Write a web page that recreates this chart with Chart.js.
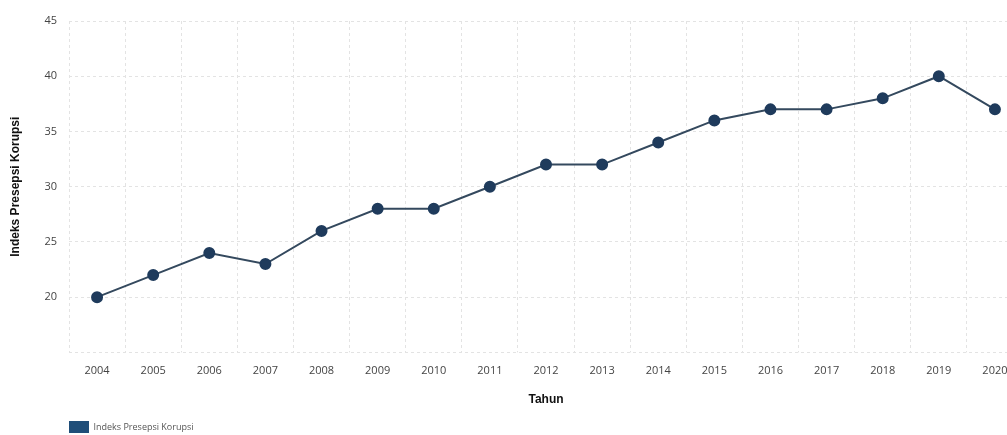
<!DOCTYPE html>
<html>
<head>
<meta charset="utf-8">
<script src="https://cdn.jsdelivr.net/npm/chart.js@4/dist/chart.umd.min.js"></script>
<style>
  html, body { margin: 0; padding: 0; background: #fff; overflow: hidden; }
  .chart { width: 1030px; height: 435px; }
</style>
</head>
<body>
<div class="chart">
  <canvas id="ipkChart" width="1030" height="435"></canvas>
</div>
<script>
const years = ["2004", "2005", "2006", "2007", "2008", "2009", "2010", "2011", "2012",
  "2013", "2014", "2015", "2016", "2017", "2018", "2019", "2020"];
const ipkValues = [20, 22, 24, 23, 26, 28, 28, 30, 32, 32, 34, 36, 37, 37, 38, 40, 37];
const yTicksShown = [20, 25, 30, 35, 40, 45];

// line the legend up with the plot's left edge and the very bottom
const legendShift = {
  id: "legendShift",
  afterLayout: (chart) => {
    chart.legend.left = 66;
    chart.legend.top += 8;
  },
};

const ctx = document.getElementById("ipkChart").getContext("2d");
new Chart(ctx, {
  type: "line",
  data: {
    labels: years,
    datasets: [
      {
        label: "Indeks Presepsi Korupsi",
        data: ipkValues,
        borderColor: "#34495e",
        backgroundColor: "#1f4e79",
        borderWidth: 2,
        pointBackgroundColor: "#1f3b5c",
        pointBorderColor: "#1f3b5c",
        pointRadius: 5,
        tension: 0,
      },
    ],
  },
  plugins: [legendShift],
  options: {
    responsive: false,
    animation: false,
    layout: { padding: { top: 21, left: 8, right: 0, bottom: 0 } },
    plugins: {
      legend: {
        position: "bottom",
        align: "start",
        labels: {
          boxWidth: 20,
          boxHeight: 12,
          color: "#555",
          font: { family: "Open Sans", size: 9 },
          padding: 3,
          generateLabels: (chart) => [
            {
              text: chart.data.datasets[0].label,
              fillStyle: "#1f4e79",
              strokeStyle: "#1f4e79",
              lineWidth: 0,
              fontColor: "#555",
            },
          ],
        },
      },
      tooltip: { enabled: false },
    },
    scales: {
      x: {
        offset: true,
        grid: {
          offset: true,
          color: "#e3e3e3",
          tickLength: 0,
        },
        border: { display: false, dash: [3, 3] },
        ticks: {
          color: "#444",
          font: { family: "Open Sans", size: 11 },
          padding: 12,
          maxRotation: 0,
          autoSkip: false,
        },
        title: {
          display: true,
          text: "Tahun",
          color: "#111",
          font: { family: "Liberation Sans Narrow, Arial Narrow, sans-serif", size: 12, weight: "bold" },
          padding: { top: 3, bottom: 3 },
        },
      },
      y: {
        min: 15,
        max: 45,
        afterFit: (scale) => {
          scale.width = 61;
        },
        grid: {
          color: "#e3e3e3",
          tickLength: 0,
        },
        border: { display: false, dash: [3, 3] },
        ticks: {
          stepSize: 5,
          color: "#444",
          font: { family: "Open Sans", size: 11 },
          padding: 12,
          callback: (value) => (yTicksShown.includes(value) ? value : ""),
        },
        title: {
          display: true,
          text: "Indeks Presepsi Korupsi",
          color: "#111",
          font: { family: "Liberation Sans Narrow, Arial Narrow, sans-serif", size: 12, weight: "bold" },
          padding: { top: 0, bottom: 4 },
        },
      },
    },
  },
});
</script>
</body>
</html>
